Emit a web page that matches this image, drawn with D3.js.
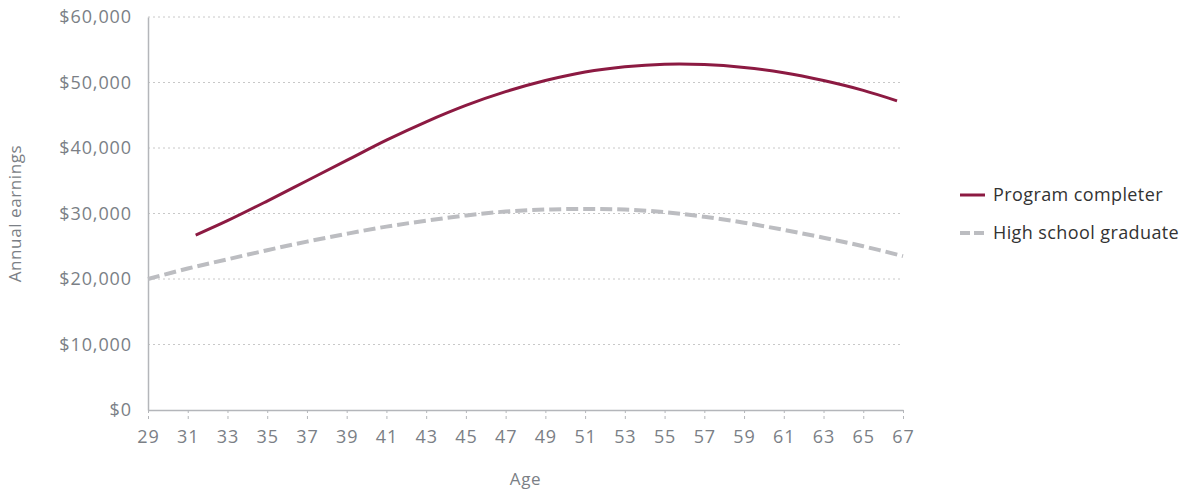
<!DOCTYPE html>
<html>
<head>
<meta charset="utf-8">
<script src="https://cdn.jsdelivr.net/npm/d3@7"></script>
<style>
  body { margin: 0; background: #fff; }
  svg { display: block; }
  svg text { font-family: "Open Sans", Lato, sans-serif; }
  .tick text { fill: #7b7f86; font-size: 18px; letter-spacing: 0.9px; }
</style>
</head>
<body>
<svg id="chart" width="1187" height="491"></svg>
<script>
// ages and earnings
const completerAges = [31.4, 33, 35, 37, 39, 41, 43, 45, 47, 49, 51, 53, 55, 57, 59, 61, 63, 65, 66.7];
const completerEarnings = [26700, 28900, 31900, 35000, 38100, 41200, 44000, 46500, 48600, 50300, 51600, 52400, 52800, 52750, 52300, 51500, 50300, 48800, 47200];
const hsAges = [29, 31, 33, 35, 37, 39, 41, 43, 45, 47, 49, 51, 53, 55, 57, 59, 61, 63, 65, 67];
const hsEarnings = [20000, 21600, 23000, 24400, 25700, 26900, 28000, 28900, 29700, 30300, 30600, 30700, 30600, 30200, 29500, 28600, 27500, 26300, 25000, 23500];
const xTicks = d3.range(29, 68, 2);
const yTicks = [0, 10000, 20000, 30000, 40000, 50000, 60000];
const seriesNames = ['Program completer', 'High school graduate'];

const svg = d3.select('#chart');
const margin = { top: 17, left: 148, right: 284, bottom: 81 };
const width = 1187 - margin.left - margin.right;
const height = 491 - margin.top - margin.bottom;

const x = d3.scaleLinear().domain([29, 67]).range([0, width]);
const y = d3.scaleLinear().domain([0, 60000]).range([height, 0]);

const g = svg.append('g').attr('transform', `translate(${margin.left},${margin.top})`);

// gridlines
g.append('g')
  .selectAll('line')
  .data(yTicks.filter(d => d > 0))
  .enter().append('line')
    .attr('x1', 0).attr('x2', width)
    .attr('y1', d => y(d)).attr('y2', d => y(d))
    .attr('stroke', '#c8c8c8')
    .attr('stroke-dasharray', '2,3');

// y axis
const yAxis = g.append('g')
  .call(d3.axisLeft(y).tickValues(yTicks).tickSize(0).tickPadding(16).tickFormat(d => '$' + d3.format(',')(d)))
  .attr('font-family', null).attr('font-size', null);
yAxis.select('.domain').attr('stroke', '#b4b6ba').attr('stroke-width', 1.5);

// x axis
const xAxis = g.append('g')
  .attr('transform', `translate(0,${height})`)
  .call(d3.axisBottom(x).tickValues(xTicks).tickSize(11).tickPadding(9).tickSizeOuter(0))
  .attr('font-family', null).attr('font-size', null);
xAxis.select('.domain').attr('stroke', '#b4b6ba').attr('stroke-width', 1.5);
xAxis.selectAll('.tick line').attr('stroke', '#b4b6ba').attr('stroke-dasharray', '3,3');

const line = d3.line()
  .x(d => x(d[0]))
  .y(d => y(d[1]))
  .curve(d3.curveCatmullRom.alpha(0.5));

g.append('path')
  .datum(d3.zip(hsAges, hsEarnings))
  .attr('fill', 'none')
  .attr('stroke', '#bcbdc1')
  .attr('stroke-width', 4)
  .attr('stroke-dasharray', '12,5')
  .attr('d', line);

g.append('path')
  .datum(d3.zip(completerAges, completerEarnings))
  .attr('fill', 'none')
  .attr('stroke', '#8c1a42')
  .attr('stroke-width', 3)
  .attr('d', line);

// axis titles
svg.append('text')
  .attr('x', margin.left + x(48))
  .attr('y', 485)
  .attr('text-anchor', 'middle')
  .attr('fill', '#7b7f86')
  .attr('font-size', 17)
  .attr('letter-spacing', 0.6)
  .text('Age');

svg.append('text')
  .attr('transform', `translate(21,${margin.top + y(30000)}) rotate(-90)`)
  .attr('text-anchor', 'middle')
  .attr('fill', '#7b7f86')
  .attr('font-size', 17)
  .attr('letter-spacing', 0.6)
  .text('Annual earnings');

// legend
const legend = svg.append('g').attr('transform', 'translate(960,195)');
const legendStyles = [
  { stroke: '#8c1a42', dash: null, w: 3 },
  { stroke: '#bcbdc1', dash: '10,4', w: 4 }
];
seriesNames.forEach((name, i) => {
  const row = legend.append('g').attr('transform', `translate(0,${i * 38})`);
  row.append('line')
    .attr('x1', 0).attr('x2', 25)
    .attr('stroke', legendStyles[i].stroke)
    .attr('stroke-width', legendStyles[i].w)
    .attr('stroke-dasharray', legendStyles[i].dash);
  row.append('text')
    .attr('x', 33)
    .attr('dy', '0.35em')
    .attr('fill', '#333')
    .attr('font-size', 18)
    .attr('letter-spacing', 0.4)
    .text(name);
});
</script>
</body>
</html>
